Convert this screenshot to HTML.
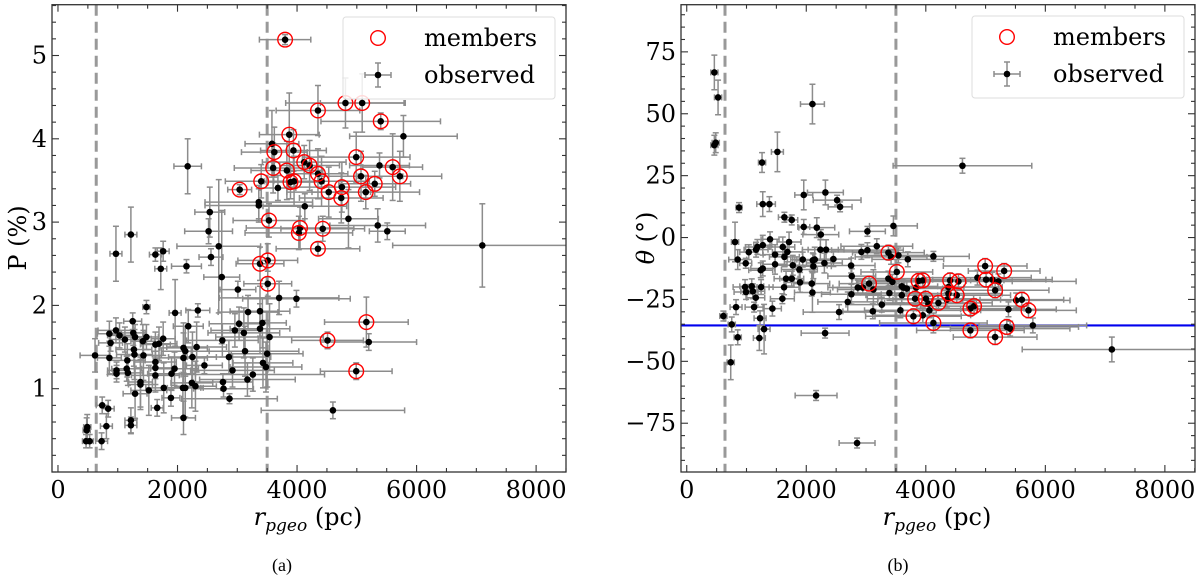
<!DOCTYPE html>
<html><head><meta charset="utf-8"><title>Polarization vs distance</title>
<style>
html,body{margin:0;padding:0;background:#fff;}
svg{display:block;font-family:"DejaVu Serif","Liberation Serif",serif;}
</style></head>
<body>
<svg id="chart" width="1200" height="580" viewBox="0 0 1200 580" xmlns="http://www.w3.org/2000/svg">
<g id="panelA"></g>
<g id="panelB"></g>
<text x="0" y="0" transform="translate(26,238) rotate(-90)" text-anchor="middle" font-size="24">P (%)</text>
<text x="0" y="0" transform="translate(654,238) rotate(-90)" text-anchor="middle" font-size="24"><tspan font-style="italic">θ</tspan> (°)</text>
<text x="308" y="525" text-anchor="middle" font-size="24"><tspan font-style="italic">r</tspan><tspan font-style="italic" font-size="17" dy="6">pgeo</tspan><tspan dy="-6"> (pc)</tspan></text>
<text x="937" y="525" text-anchor="middle" font-size="24"><tspan font-style="italic">r</tspan><tspan font-style="italic" font-size="17" dy="6">pgeo</tspan><tspan dy="-6"> (pc)</tspan></text>
<text x="282" y="571" text-anchor="middle" font-size="18" font-family="Liberation Serif, serif">(a)</text>
<text x="898" y="571" text-anchor="middle" font-size="18" font-family="Liberation Serif, serif">(b)</text>
</svg>
<script>
// ---------- Panel (a) data ----------
const leftR = [3800,4350,4810,5090,5400,5780,3870,3580,3620,3940,
2170,3600,3830,4120,4210,4990,5380,5600,5720,5070,
5300,5150,4750,4740,4530,4350,4410,3890,3950,3400,
3040,3680,3360,3360,4130,4860,3530,4050,4030,4430,
5350,5510,7100,4350,970,1220,1630,1760,1720,2150,
2540,2520,2690,2560,2740,3010,3380,3510,3510,3700,
3990,5160,4510,5200,4990,4600,1480,1960,2340,1250,
860,970,1030,1120,880,1260,1290,1420,1480,1630,
1760,1690,2180,2100,2130,2320,1270,620,860,1280,
1160,1430,1630,1630,1630,980,980,1150,1170,1380,
1380,1290,1520,1770,1890,1950,1900,2100,2250,2090,
2130,2240,2300,2450,2750,2960,3030,3110,3180,3380,
3420,3380,3540,3130,2860,3500,3430,3480,2920,3260,
3170,2760,2770,2870,1660,2100,1220,1220,740,840,
810,480,490,470,530,730];
const leftP = [5.19,4.34,4.43,4.43,4.21,4.03,4.05,3.94,3.84,3.86,
3.67,3.65,3.62,3.72,3.68,3.78,3.68,3.66,3.55,3.55,
3.46,3.36,3.42,3.29,3.36,3.58,3.49,3.48,3.49,3.49,
3.39,3.41,3.24,3.20,3.19,3.04,3.02,2.93,2.87,2.92,
2.96,2.89,2.72,2.68,2.62,2.85,2.61,2.65,2.44,2.47,
3.12,2.89,2.71,2.58,2.34,2.19,2.50,2.54,2.26,2.09,
2.08,1.80,1.58,1.56,1.21,0.74,1.98,1.91,1.94,1.81,
1.66,1.70,1.64,1.59,1.55,1.67,1.62,1.57,1.62,1.53,
1.60,1.54,1.75,1.49,1.45,1.50,1.47,1.40,1.37,1.41,
1.34,1.40,1.32,1.25,1.16,1.22,1.18,1.24,1.19,1.08,
1.05,0.94,0.98,1.01,0.89,1.24,1.18,1.37,1.38,1.01,
1.01,1.07,1.03,1.28,1.58,1.70,1.78,1.67,1.92,1.93,
1.79,1.72,1.62,1.45,1.38,1.42,1.31,1.26,1.22,1.17,
1.11,1.08,1.00,0.88,0.77,0.65,0.62,0.56,0.80,0.76,
0.55,0.50,0.54,0.37,0.37,0.37];
const leftRErr = [430,700,1000,700,1000,900,500,450,550,550,
230,650,600,700,500,900,500,500,700,700,
600,900,900,700,700,500,800,500,500,600,
200,300,900,900,700,500,600,900,900,700,
800,300,1500,700,100,100,100,100,100,250,
250,400,700,200,300,300,400,500,400,1000,
900,700,600,800,600,1200,60,100,200,150,
200,300,200,250,200,200,200,200,200,250,
200,300,250,400,400,500,300,250,200,300,
300,300,350,350,400,150,150,250,250,200,
200,200,300,300,150,400,400,400,400,300,
300,350,350,300,600,400,500,600,500,500,
400,500,900,900,700,600,500,600,700,1200,
800,500,500,800,100,200,100,100,100,100,
100,60,60,60,60,100];
const leftPErr = [0.06,0.3,0.3,0.35,0.1,0.25,0.5,0.4,0.3,0.25,
0.33,0.3,0.35,0.2,0.3,0.3,0.15,0.4,0.3,0.3,
0.15,0.2,0.3,0.3,0.3,0.3,0.3,0.2,0.3,0.2,
0.06,0.15,0.2,0.2,0.15,0.35,0.2,0.25,0.2,0.15,
0.2,0.1,0.5,0.08,0.33,0.33,0.08,0.12,0.25,0.08,
0.3,0.15,0.8,0.1,0.8,0.1,0.2,0.2,0.15,0.2,
0.1,0.3,0.1,0.1,0.1,0.1,0.08,0.4,0.08,0.1,
0.15,0.15,0.15,0.15,0.1,0.15,0.15,0.2,0.15,0.15,
0.2,0.2,0.2,0.3,0.3,0.3,0.2,0.2,0.2,0.3,
0.2,0.3,0.2,0.2,0.2,0.1,0.1,0.15,0.15,0.3,
0.3,0.3,0.3,0.3,0.1,0.2,0.2,0.3,0.3,0.35,
0.35,0.3,0.3,0.1,0.2,0.2,0.2,0.3,0.2,0.3,
0.3,0.3,0.4,0.3,0.2,0.4,0.3,0.3,0.2,0.2,
0.2,0.1,0.1,0.06,0.1,0.2,0.15,0.1,0.1,0.1,
0.15,0.15,0.15,0.08,0.08,0.1];
const leftMember = [1,1,1,1,1,0,1,0,1,1,
0,1,1,1,1,1,0,1,1,1,
1,1,1,1,1,1,1,1,1,1,
1,0,0,0,0,0,1,1,1,1,
0,0,0,1,0,0,0,0,0,0,
0,0,0,0,0,0,1,1,1,0,
0,1,1,0,1,0,0,0,0,0,
0,0,0,0,0,0,0,0,0,0,
0,0,0,0,0,0,0,0,0,0,
0,0,0,0,0,0,0,0,0,0,
0,0,0,0,0,0,0,0,0,0,
0,0,0,0,0,0,0,0,0,0,
0,0,0,0,0,0,0,0,0,0,
0,0,0,0,0,0,0,0,0,0,
0,0,0,0,0,0];
const leftXTicks = [0,2000,4000,6000,8000];
const leftYTicks = [1,2,3,4,5];

// ---------- Panel (b) data ----------
const rightR = [462,524,462,485,2103,1517,1260,4613,875,1272,
1383,1958,2320,2516,2566,1634,1757,1958,2176,2243,
3023,3458,808,853,987,1038,1160,1182,1272,1394,
1478,1478,1607,1634,1684,1712,1774,1885,1941,2109,
2119,2142,2236,2331,2303,2454,2750,2761,1272,1238,
976,992,1088,1105,1244,1155,1127,825,613,753,
853,736,1227,1294,1215,1433,1600,1628,1662,1757,
1896,2092,2103,2315,2164,2549,2694,2755,2862,2945,
3051,3123,2922,3023,3180,3264,3113,3374,3419,3542,
3699,3515,3374,3441,3598,3598,3391,3682,3575,3625,
4127,3877,3950,3838,3821,4000,4044,4060,3950,3793,
4127,4211,4407,4546,4379,4379,4518,4351,4864,4993,
5311,5009,5115,5215,5160,4746,4808,4746,5160,5383,
5512,5607,5718,5355,5411,5791,7113,2850];
const rightTheta = [66.7,56.6,37.3,38.3,53.9,34.6,30.3,29,12.1,13.5,
13.5,17.2,18.2,15.1,12.4,8.2,7.1,4.3,4.0,1.2,
2.5,4.7,-1.8,-8.9,-10.4,-5.9,-4.9,-3.8,-3.1,-0.7,
-6.9,-10.8,-3.8,-7.8,-5.8,-1.8,-11.2,-12.9,-8.9,-9.2,
-11.6,-8.9,-4.9,-4.9,-10.3,-8.7,-11.3,-15.6,-12.5,-13.2,
-20,-22,-19.7,-21.7,-20,-24.3,-28.1,-28.1,-31.7,-35.1,
-40.3,-50.4,-32.6,-37,-40.6,-28.7,-24.7,-20.1,-16.6,-16.6,
-18.1,-18.6,-22.2,-38.6,-63.8,-30.1,-26,-22.9,-20.2,-20.2,
-18.6,-21,-5.8,-5.1,-3.5,-27.1,-29.8,-6.1,-7.8,-7.2,
-8.8,-13.9,-16.6,-17.9,-19.7,-23.3,-22.4,-20.6,-29.4,-20.2,
-7.6,-17.5,-17.3,-20.2,-24.7,-24.7,-26.7,-29.4,-31.4,-31.8,
-34.5,-26.4,-17.3,-17.7,-20,-22.6,-23.3,-25.1,-16.2,-11.5,
-13.5,-17,-17,-17.7,-21.3,-28.7,-27.7,-37.5,-40.2,-29,
-25.4,-25.1,-29.4,-36.1,-36.8,-35.5,-45.2,-83];
const rightRErr = [60,60,60,60,200,100,60,1160,50,100,
100,150,300,400,200,100,100,100,300,300,
300,400,60,150,100,150,200,200,150,150,
200,200,200,250,250,200,300,300,200,300,
300,300,300,300,300,300,400,400,200,200,
200,200,200,200,200,150,150,100,60,60,
60,60,100,100,100,150,200,250,200,200,
250,300,300,400,350,600,500,500,500,500,
500,600,600,600,600,600,500,600,600,600,
600,600,600,600,600,600,600,600,600,700,
600,800,800,800,800,800,800,800,800,800,
900,900,900,900,900,900,900,900,900,700,
600,1000,1000,1300,900,900,900,900,700,800,
900,700,800,1200,1000,900,1500,300];
const rightThetaErr = [7,7,4,4,8,8,4,3,2,5,
3,6,5,2,2,2,2,3,4,2,
2,4,8,4,2,3,3,3,4,3,
4,4,4,4,4,4,4,4,3,3,
5,5,4,4,4,3,3,3,3,3,
3,3,3,3,3,3,2,3,2,3,
3,7,3,10,5,3,2,3,3,3,
4,5,8,2,2,3,4,4,3,3,
3,8,3,3,3,3,3,3,3,3,
3,3,3,3,3,3,3,3,3,3,
2,3,3,3,3,3,3,3,3,3,
4,3,3,3,3,3,3,3,3,3,
3,3,3,3,3,3,3,3,3,3,
3,3,3,3,3,3,5,2];
const rightMember = [0,0,0,0,0,0,0,0,0,0,
0,0,0,0,0,0,0,0,0,0,
0,0,0,0,0,0,0,0,0,0,
0,0,0,0,0,0,0,0,0,0,
0,0,0,0,0,0,0,0,0,0,
0,0,0,0,0,0,0,0,0,0,
0,0,0,0,0,0,0,0,0,0,
0,0,0,0,0,0,0,0,0,0,
1,0,0,0,0,0,0,1,0,0,
0,1,0,0,0,0,0,0,0,0,
0,1,1,0,1,1,0,0,0,1,
1,1,1,1,0,1,1,0,0,1,
1,1,0,0,1,1,1,1,1,0,
0,1,1,1,0,0,0,0];
const rightXTicks = [0,2000,4000,6000,8000];
const rightYTicks = [-75,-50,-25,0,25,50,75];
const referenceTheta = [-35.5];
const distanceCuts = [640,3500];

const NS = "http://www.w3.org/2000/svg";
function mk(tag, attrs, parent){
  const e = document.createElementNS(NS, tag);
  for (const k in attrs) e.setAttribute(k, attrs[k]);
  parent.appendChild(e);
  return e;
}

function drawPanel(g, cfg){
  const L=cfg.left, R=cfg.right, T=cfg.top, B=cfg.bottom;
  const sx = v => L + (v - cfg.xmin) / (cfg.xmax - cfg.xmin) * (R - L);
  const sy = v => B - (v - cfg.ymin) / (cfg.ymax - cfg.ymin) * (B - T);
  const clip = mk('clipPath',{id:cfg.id+'clip'},g);
  mk('rect',{x:L,y:T,width:R-L,height:B-T},clip);
  const plot = mk('g',{'clip-path':'url(#'+cfg.id+'clip)'},g);
  
  
  // dashed cuts
  distanceCuts.forEach(c=>{
    const l = mk('line',{x1:sx(c),x2:sx(c),y1:T,y2:B,stroke:'#999','stroke-width':3,'stroke-dasharray':'11,6'},plot);
    
    
  });
  if (cfg.hline){
    cfg.hline.forEach(h=>{
      const l = mk('line',{x1:L,x2:R,y1:sy(h),y2:sy(h),stroke:'#0000ee','stroke-width':2.2},plot);
      
      
    });
  }
  // error bars
  const xs=cfg.xs, ys=cfg.ys;
  for (let i=0;i<xs.length;i++){
    const eg = mk('g',{stroke:'#8c8c8c','stroke-width':1.5},plot);
    
    
    const x0=sx(xs[i]-cfg.xe[i]), x1=sx(xs[i]+cfg.xe[i]), y=sy(ys[i]);
    const y0=sy(ys[i]-cfg.ye[i]), y1=sy(ys[i]+cfg.ye[i]), x=sx(xs[i]);
    mk('line',{x1:x0,x2:x1,y1:y,y2:y},eg);
    mk('line',{x1:x0,x2:x0,y1:y-3,y2:y+3},eg);
    mk('line',{x1:x1,x2:x1,y1:y-3,y2:y+3},eg);
    mk('line',{x1:x,x2:x,y1:y0,y2:y1},eg);
    mk('line',{x1:x-3,x2:x+3,y1:y0,y2:y0},eg);
    mk('line',{x1:x-3,x2:x+3,y1:y1,y2:y1},eg);
  }
  for (let i=0;i<xs.length;i++){
    const p = mk('circle',{cx:sx(xs[i]),cy:sy(ys[i]),r:3.3,fill:'#000'},plot);
    
    
  }
  for (let i=0;i<xs.length;i++){
    if (!cfg.mem[i]) continue;
    const c = mk('circle',{cx:sx(xs[i]),cy:sy(ys[i]),r:7.3,fill:'none',stroke:'#ff0000','stroke-width':1.4},plot);
    
    
  }
  // frame
  const fr = mk('rect',{x:L,y:T,width:R-L,height:B-T,fill:'none',stroke:'#333','stroke-width':1.3},g);
  
  
  // ticks
  const tg = mk('g',{stroke:'#333','stroke-width':1.1},g);
  
  
  for (let v=cfg.xmin0; v<=cfg.xmax; v+=cfg.xminor){
    const major = cfg.xticks.indexOf(v)>=0, len = major?7:4, x=sx(v);
    if (x<L||x>R) continue;
    mk('line',{x1:x,x2:x,y1:B,y2:B-len},tg);
    mk('line',{x1:x,x2:x,y1:T,y2:T+len},tg);
  }
  for (let k=Math.ceil(cfg.ymin/cfg.yminor); k*cfg.yminor<=cfg.ymax; k++){
    const v=k*cfg.yminor, y=sy(v);
    const major = cfg.yticks.some(t=>Math.abs(t-v)<1e-6), len=major?7:4;
    mk('line',{x1:L,x2:L+len,y1:y,y2:y},tg);
    mk('line',{x1:R,x2:R-len,y1:y,y2:y},tg);
  }
  cfg.xticks.forEach(v=>{
    const t = mk('text',{x:sx(v),y:B+26,'text-anchor':'middle','font-size':24},g);
    t.textContent = String(v);
    
    
  });
  cfg.yticks.forEach(v=>{
    const t = mk('text',{x:L-5,y:sy(v)+8,'text-anchor':'end','font-size':24},g);
    t.textContent = v<0 ? '\u2212'+Math.abs(v) : String(v);
    
    
  });
  // legend
  const lg = mk('g',{},g);
  
  
  const lx=cfg.legX, ly=cfg.legY;
  mk('rect',{x:lx,y:ly,width:212,height:82,rx:3,fill:'#fff','fill-opacity':0.85,stroke:'#ddd','stroke-width':1},lg);
  const e1 = mk('g',{},lg);
  
  
  mk('circle',{cx:lx+35,cy:ly+21,r:7.3,fill:'none',stroke:'#ff0000','stroke-width':1.4},e1);
  const t1 = mk('text',{x:lx+81,y:ly+29,'font-size':24},e1); t1.textContent='members';
  const e2 = mk('g',{},lg);
  
  
  const eb = mk('g',{stroke:'#8c8c8c','stroke-width':1.5},e2);
  mk('line',{x1:lx+22,x2:lx+48,y1:ly+58,y2:ly+58},eb);
  mk('line',{x1:lx+22,x2:lx+22,y1:ly+55,y2:ly+61},eb);
  mk('line',{x1:lx+48,x2:lx+48,y1:ly+55,y2:ly+61},eb);
  mk('line',{x1:lx+35,x2:lx+35,y1:ly+46,y2:ly+70},eb);
  mk('line',{x1:lx+32,x2:lx+38,y1:ly+46,y2:ly+46},eb);
  mk('line',{x1:lx+32,x2:lx+38,y1:ly+70,y2:ly+70},eb);
  mk('circle',{cx:lx+35,cy:ly+58,r:3.3,fill:'#000'},e2);
  const t2 = mk('text',{x:lx+81,y:ly+66,'font-size':24},e2); t2.textContent='observed';
}

drawPanel(document.getElementById('panelA'),{
  id:'panel-a', left:52, right:566, top:4.7, bottom:472,
  xmin:-100, xmax:8500, ymin:0, ymax:5.61,
  xmin0:0, xminor:500, yminor:0.2,
  xticks:leftXTicks, yticks:leftYTicks,
  xs:leftR, ys:leftP, xe:leftRErr, ye:leftPErr, mem:leftMember,
  legX:343, legY:17
});
drawPanel(document.getElementById('panelB'),{
  id:'panel-b', left:681, right:1195, top:4.7, bottom:472,
  xmin:-96, xmax:8504, ymin:-94.7, ymax:94.05,
  xmin0:0, xminor:500, yminor:5,
  xticks:rightXTicks, yticks:rightYTicks,
  xs:rightR, ys:rightTheta, xe:rightRErr, ye:rightThetaErr, mem:rightMember,
  hline:referenceTheta,
  legX:972, legY:16
});
</script>
</body></html>
